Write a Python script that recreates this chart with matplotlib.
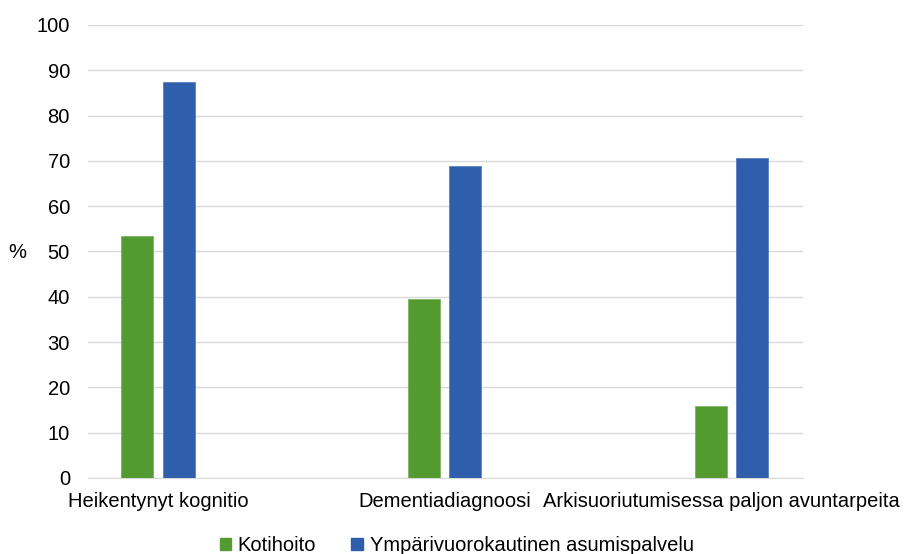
import matplotlib.pyplot as plt
from matplotlib.patches import Patch
from matplotlib.transforms import ScaledTranslation
import numpy as np

plt.rcParams['font.family'] = ['Liberation Sans', 'DejaVu Sans']

categories = ['Heikentynyt kognitio', 'Dementiadiagnoosi',
              'Arkisuoriutumisessa paljon avuntarpeita']
kotihoito = [53.5, 39.5, 15.8]
asumispalvelu = [87.4, 68.9, 70.6]
series_names = ['Kotihoito', 'Ympärivuorokautinen asumispalvelu']

green = '#539A31'
blue = '#2F5FAC'
fs = 14.5

fig = plt.figure(figsize=(9.15, 5.54), dpi=100)
ax = fig.add_axes([0.0962, 0.1372, 0.7814, 0.8177])

x = np.arange(len(categories))
w = 0.112
ax.bar(x - 0.0718, kotihoito, w, color=green, edgecolor='#7DB35F', linewidth=0.6, zorder=3)
ax.bar(x + 0.0718, asumispalvelu, w, color=blue, edgecolor='#5A80C0', linewidth=0.6, zorder=3)

ax.set_xlim(-0.244, 2.249)
ax.set_ylim(0, 100)
ax.set_yticks(range(0, 101, 10))
ax.yaxis.grid(True, color='#D9D9D9', linewidth=1)
ax.set_axisbelow(True)
for s in ['top', 'right', 'left']:
    ax.spines[s].set_visible(False)
ax.spines['bottom'].set_color('#D9D9D9')

ax.set_xticks(x)
ax.set_xticklabels(categories)
ax.tick_params(axis='both', length=0, labelsize=fs, colors='black')
ax.tick_params(axis='y', pad=13)
ax.tick_params(axis='x', pad=10)
# last label is pushed left so it stays inside the figure
lbl = ax.get_xticklabels()[-1]
lbl.set_transform(lbl.get_transform() + ScaledTranslation(-0.10, 0, fig.dpi_scale_trans))

ax.set_ylabel('%', rotation=0, fontsize=fs, va='center', ha='center')
ax.yaxis.set_label_coords(-0.099, 0.497)

handles = [Patch(color=green), Patch(color=blue)]
fig.legend(handles, series_names, loc='lower center', ncol=2, frameon=False,
           fontsize=fs, handlelength=0.55, handleheight=0.55, handletextpad=0.35,
           columnspacing=1.75, bbox_to_anchor=(0.499, -0.035))

fig.savefig('out.png', dpi=100)
